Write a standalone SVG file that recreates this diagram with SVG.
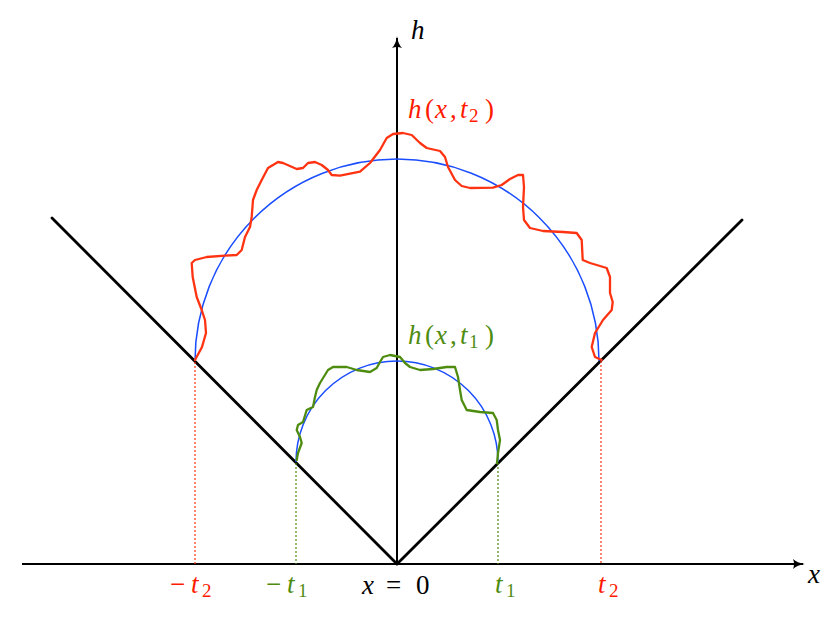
<svg xmlns="http://www.w3.org/2000/svg" width="830" height="623" viewBox="0 0 830 623">
<style>
.ax{stroke:#000;stroke-width:2;fill:none}
.v{stroke:#000;stroke-width:2.8;fill:none;stroke-linecap:round}
.blue{stroke:#1a4dff;stroke-width:1.5;fill:none}
.rc{stroke:#ff3311;stroke-width:2.3;fill:none;stroke-linejoin:round;stroke-linecap:round}
.gc{stroke:#4e8c10;stroke-width:2.3;fill:none;stroke-linejoin:round;stroke-linecap:round}
.rd{stroke:#ff3311;stroke-width:1.2;stroke-dasharray:2,2;fill:none}
.gd{stroke:#4e8c10;stroke-width:1.2;stroke-dasharray:2,2;fill:none}
</style>
<defs>
<marker id="arr" viewBox="0 0 12 10" refX="10" refY="5" markerWidth="12" markerHeight="10" markerUnits="userSpaceOnUse" orient="auto">
<path d="M0,0 Q4,4 12,5 Q4,6 0,10 Q2,5 0,0 Z" fill="#000"/>
</marker>
</defs>
<g id="axes">
<line class="ax" x1="22" y1="564" x2="803" y2="564" marker-end="url(#arr)"/>
<line class="ax" x1="397" y1="564" x2="397" y2="38" marker-end="url(#arr)"/>
</g>
<g id="cone">
<line class="v" x1="52" y1="218" x2="397" y2="564"/>
<line class="v" x1="397" y1="564" x2="742" y2="220"/>
</g>
<g id="circles">
<path class="blue" d="M195,361 A202,202 0 0 1 599,361"/>
<path class="blue" d="M296,462 A101,101 0 0 1 498,462"/>
</g>
<g id="connectors">
<line class="rd" x1="195" y1="362" x2="195" y2="564"/>
<line class="gd" x1="296" y1="463" x2="296" y2="564"/>
<line class="gd" x1="498" y1="463" x2="498" y2="564"/>
<line class="rd" x1="601" y1="361" x2="601" y2="564"/>
</g>
<g id="curve-t2">
<polyline class="rc" points="195,360 202,347 206,333 205,320 201.7,310 196.7,297 192.7,277 191.7,263 195,260 206.7,257 225,255.7 236.7,255 241.7,250 245,237 250,227 251.7,217 253,200 256.7,190 261.7,180 268,168 278,162 283,163 296.7,169 303,168 308,163 315,162 321.7,165 328,170 331.7,175 340,175.7 360,171.7 370,163 380,150 386.7,138 393,134 403,133 411.7,135 420,143 426.7,148 440,151 445,157 448,167 455,180 461.7,186 470,188 493,187.7 501.7,185 510,179 518,175 523,175 524,187 523,207 524,220 530,228 543,231 563,232 576.7,233 581.7,240 582.7,260 590,263 606.7,268 610,277 610,293 612.7,302 611.7,310 603,320 595,333 591.7,347 595,357 601.7,360"/>
</g>
<g id="curve-t1">
<polyline class="gc" points="296.7,460 298,453 301.7,443 300,437 296.7,430 298,425 303,422 306.7,410 313,407 315,397 316.7,390 320,383 328,370 333,367 346.7,367 356.7,370 370,372 376.7,368 380,362 383,357 390,355 395,356 400,357 405,363 410,367 420,370 433,369 446.7,367 455,367 458,377 460,390 461.7,400 466.7,410 480,412 493,413 496.7,420 498,430 500,440 498,453 497,463"/>
</g>
<g id="labels">
<text x="411" y="39" style="font-family:'Liberation Serif',serif;font-size:27px;font-style:italic">h</text>
<text x="808" y="583" style="font-family:'Liberation Serif',serif;font-size:27px;font-style:italic">x</text>
<text y="118" fill="#ff1a00" style="font-family:'Liberation Serif',serif;font-size:27px"><tspan x="408" style="font-style:italic">h</tspan><tspan x="425">(</tspan><tspan x="435" style="font-style:italic">x</tspan><tspan x="450">,</tspan><tspan x="460" style="font-style:italic">t</tspan><tspan x="469" dy="4" style="font-size:19px">2</tspan><tspan x="485" dy="-4">)</tspan></text>
<text y="344" fill="#4e8c10" style="font-family:'Liberation Serif',serif;font-size:27px"><tspan x="408" style="font-style:italic">h</tspan><tspan x="425">(</tspan><tspan x="435" style="font-style:italic">x</tspan><tspan x="450">,</tspan><tspan x="460" style="font-style:italic">t</tspan><tspan x="469" dy="4" style="font-size:19px">1</tspan><tspan x="485" dy="-4">)</tspan></text>
<text y="593" fill="#ff1a00" style="font-family:'Liberation Serif',serif;font-size:27px"><tspan x="170">−</tspan><tspan x="191" style="font-style:italic">t</tspan><tspan x="202" dy="4" style="font-size:19px">2</tspan></text>
<text y="593" fill="#4e8c10" style="font-family:'Liberation Serif',serif;font-size:27px"><tspan x="266">−</tspan><tspan x="287" style="font-style:italic">t</tspan><tspan x="298" dy="4" style="font-size:19px">1</tspan></text>
<text y="594" fill="#000" style="font-family:'Liberation Serif',serif;font-size:27px"><tspan x="362" style="font-style:italic">x</tspan><tspan x="386">=</tspan><tspan x="416">0</tspan></text>
<text y="593" fill="#4e8c10" style="font-family:'Liberation Serif',serif;font-size:27px"><tspan x="495" style="font-style:italic">t</tspan><tspan x="506" dy="4" style="font-size:19px">1</tspan></text>
<text y="593" fill="#ff1a00" style="font-family:'Liberation Serif',serif;font-size:27px"><tspan x="598" style="font-style:italic">t</tspan><tspan x="609" dy="4" style="font-size:19px">2</tspan></text>
</g>
</svg>
